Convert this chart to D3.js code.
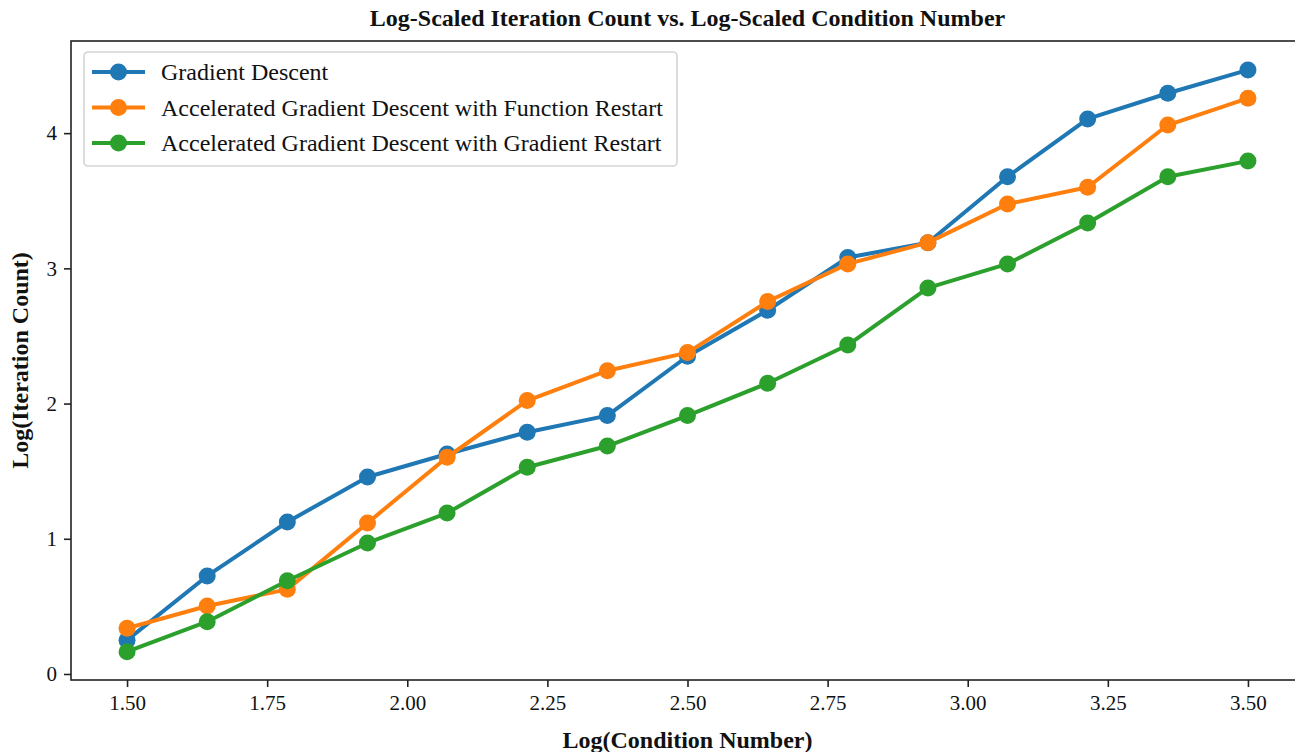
<!DOCTYPE html>
<html>
<head>
<meta charset="utf-8">
<script src="https://cdn.jsdelivr.net/npm/d3@7"></script>
<style>
  body { margin: 0; background: #fff; }
  text { font-family: "Liberation Serif", "Times New Roman", serif; }
</style>
</head>
<body>
<svg id="chart" width="1295" height="752"></svg>
<script>
// data
const xValues = [1.5, 1.643, 1.786, 1.929, 2.071, 2.214, 2.357, 2.5, 2.643, 2.786, 2.929, 3.071, 3.214, 3.357, 3.5];
const gradientDescent = [0.25, 0.725, 1.124, 1.457, 1.627, 1.788, 1.911, 2.35, 2.69, 3.08, 3.19, 3.678, 4.105, 4.295, 4.467];
const agdFunctionRestart = [0.338, 0.503, 0.626, 1.117, 1.603, 2.022, 2.243, 2.377, 2.755, 3.033, 3.19, 3.476, 3.6, 4.06, 4.258];
const agdGradientRestart = [0.165, 0.387, 0.69, 0.969, 1.19, 1.529, 1.686, 1.911, 2.15, 2.433, 2.855, 3.033, 3.336, 3.678, 3.794];
const xTicks = [1.5, 1.75, 2.0, 2.25, 2.5, 2.75, 3.0, 3.25, 3.5];
const yTicks = [0, 1, 2, 3, 4];

const series = [
  {name: 'Gradient Descent', values: gradientDescent, color: '#1f77b4'},
  {name: 'Accelerated Gradient Descent with Function Restart', values: agdFunctionRestart, color: '#ff7f0e'},
  {name: 'Accelerated Gradient Descent with Gradient Restart', values: agdGradientRestart, color: '#2ca02c'}
];

const svg = d3.select('#chart');
const margin = {left: 71, top: 41, right: 1304, bottom: 680};

// matplotlib style 5% padding
const x = d3.scaleLinear().domain([1.4, 3.6]).range([margin.left, margin.right]);
const y = d3.scaleLinear().domain([-0.0445, 4.6815]).range([margin.bottom, margin.top]);

// lines
const line = d3.line().x((d, i) => x(xValues[i])).y(d => y(d));

series.forEach(function(s){
  svg.append('path')
    .datum(s.values)
    .attr('d', line)
    .attr('fill', 'none')
    .attr('stroke', s.color)
    .attr('stroke-width', 4)
    .attr('stroke-linejoin', 'round')
    .attr('stroke-linecap', 'square');

  svg.append('g').selectAll('circle')
    .data(s.values)
    .join('circle')
    .attr('cx', (d, i) => x(xValues[i]))
    .attr('cy', d => y(d))
    .attr('r', 8.5)
    .attr('fill', s.color);
});

// axes
const xAxis = svg.append('g')
  .attr('transform', `translate(0,${margin.bottom})`)
  .call(d3.axisBottom(x).tickValues(xTicks).tickFormat(d3.format('.2f')).tickSize(7).tickPadding(8));

const yAxis = svg.append('g')
  .attr('transform', `translate(${margin.left},0)`)
  .call(d3.axisLeft(y).tickValues(yTicks).tickFormat(d3.format('d')).tickSize(7).tickPadding(7));

[xAxis, yAxis].forEach(function(ax){
  ax.select('.domain').remove();
  ax.selectAll('line').attr('stroke', '#222').attr('stroke-width', 1.6);
  ax.selectAll('text')
    .attr('fill', '#111')
    .style('font-family', '"Liberation Serif", serif')
    .style('font-size', '21px');
});

// frame
svg.append('rect')
  .attr('x', margin.left)
  .attr('y', margin.top)
  .attr('width', margin.right - margin.left)
  .attr('height', margin.bottom - margin.top)
  .attr('fill', 'none')
  .attr('stroke', '#222')
  .attr('stroke-width', 1.6);

// title + labels
svg.append('text')
  .attr('x', (margin.left + margin.right) / 2)
  .attr('y', 26)
  .attr('text-anchor', 'middle')
  .attr('font-weight', 'bold')
  .attr('font-size', 24)
  .attr('fill', '#111')
  .text('Log-Scaled Iteration Count vs. Log-Scaled Condition Number');

svg.append('text')
  .attr('x', (margin.left + margin.right) / 2)
  .attr('y', 748)
  .attr('text-anchor', 'middle')
  .attr('font-weight', 'bold')
  .attr('font-size', 24)
  .attr('fill', '#111')
  .text('Log(Condition Number)');

svg.append('text')
  .attr('transform', `translate(28,${(margin.top + margin.bottom) / 2}) rotate(-90)`)
  .attr('text-anchor', 'middle')
  .attr('font-weight', 'bold')
  .attr('font-size', 24)
  .attr('fill', '#111')
  .text('Log(Iteration Count)');

// legend
const legend = svg.append('g').attr('transform', 'translate(84,52)');
legend.append('rect')
  .attr('width', 593)
  .attr('height', 114)
  .attr('rx', 4)
  .attr('fill', 'rgba(255,255,255,0.8)')
  .attr('stroke', '#d5d5d5')
  .attr('stroke-width', 1.6);

series.forEach(function(s, i){
  const row = legend.append('g').attr('transform', `translate(0,${20 + i * 35.5})`);
  row.append('line')
    .attr('x1', 8).attr('x2', 61)
    .attr('stroke', s.color)
    .attr('stroke-width', 4);
  row.append('circle')
    .attr('cx', 34.5)
    .attr('r', 8.5)
    .attr('fill', s.color);
  row.append('text')
    .attr('x', 77)
    .attr('dy', '0.35em')
    .attr('font-size', 24)
    .attr('fill', '#111')
    .text(s.name);
});
</script>
</body>
</html>
